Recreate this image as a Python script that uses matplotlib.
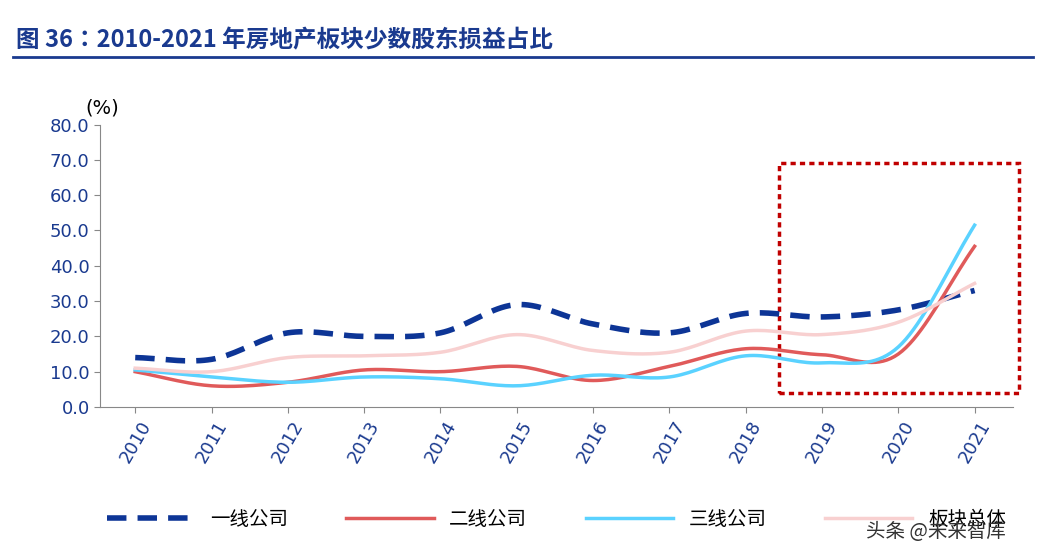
import numpy as np
import matplotlib
matplotlib.use("Agg")
import matplotlib.pyplot as plt
from matplotlib.patches import Rectangle
from matplotlib import font_manager as fm

cands = ['Noto Sans CJK SC', 'Noto Sans CJK JP', 'Noto Sans CJK TC', 'Noto Sans CJK KR']
avail = {f.name for f in fm.fontManager.ttflist}
cjk = [c for c in cands if c in avail] or cands
plt.rcParams['font.family'] = 'sans-serif'
plt.rcParams['font.sans-serif'] = cjk + ['DejaVu Sans']

years = ['2010','2011','2012','2013','2014','2015','2016','2017','2018','2019','2020','2021']
tier1 = [14, 13.5, 21, 20, 21, 29, 23.5, 21, 26.5, 25.5, 27.5, 33]
tier2 = [10, 6, 7, 10.5, 10, 11.5, 7.5, 11.5, 16.5, 14.8, 15, 45.5]
tier3 = [10.5, 8.5, 7, 8.5, 8, 6, 9, 8.5, 14.5, 12.5, 17, 51.5]
total = [11, 10, 14, 14.5, 15.5, 20.5, 16, 15.5, 21.5, 20.5, 24, 35]
names = ['一线公司', '二线公司', '三线公司', '板块总体']

def smooth(y, n=20):
    y = np.asarray(y, float); x = np.arange(len(y))
    m = np.gradient(y)
    xs, ys = [], []
    for i in range(len(y)-1):
        t = np.linspace(0, 1, n, endpoint=False)
        h00 = 2*t**3-3*t**2+1; h10 = t**3-2*t**2+t; h01 = -2*t**3+3*t**2; h11 = t**3-t**2
        xs.append(x[i]+t); ys.append(h00*y[i]+h10*m[i]+h01*y[i+1]+h11*m[i+1])
    xs.append([x[-1]]); ys.append([y[-1]])
    return np.concatenate(xs), np.concatenate(ys)

fig = plt.figure(figsize=(10.43, 5.56), dpi=100)
ax = fig.add_axes([0.096, 0.268, 0.875, 0.508])
blue = '#1a3a8f'
styles = [dict(color='#0d3596', lw=4, ls=(0, (3.5, 2))),
          dict(color='#e05a5a', lw=2.5),
          dict(color='#5ad2ff', lw=2.5),
          dict(color='#f8d0d0', lw=2.5)]
for data, name, st in zip([tier1, tier2, tier3, total], names, styles):
    xs, ys = smooth(data)
    ax.plot(xs, ys, label=name, **st)
ax.set_xlim(-0.46, 11.5)
ax.set_ylim(0, 80)
ax.set_yticks(np.arange(0, 81, 10))
ax.set_yticklabels([f'{v:.1f}' for v in np.arange(0, 81, 10)], fontsize=13, color=blue, family='DejaVu Sans')
ax.set_xticks(range(len(years)))
ax.set_xticklabels(years, rotation=60, fontsize=13, color=blue, family='DejaVu Sans')
for s in ['top', 'right']:
    ax.spines[s].set_visible(False)
ax.spines['left'].set_color('#888888'); ax.spines['bottom'].set_color('#888888')
ax.tick_params(colors='#888888', labelcolor=blue, length=4)
ax.text(-0.65, 83, '(%)', fontsize=14, color='black', family='DejaVu Sans')
ax.add_patch(Rectangle((8.44, 4), 3.14, 65.2, fill=False, ec='#c00000', lw=2.5, ls=(0, (1.5, 1.2)), clip_on=False))
ax.legend(loc='upper center', bbox_to_anchor=(0.5, -0.3), ncol=4, frameon=False, fontsize=14,
          handlelength=4.5, columnspacing=3)
fig.text(0.015, 0.915, '图 36：2010-2021 年房地产板块少数股东损益占比', fontsize=17, fontweight='bold', color='#1a3a8f')
fig.add_artist(plt.Line2D([0.012, 0.99], [0.897, 0.897], color='#1a3a8f', lw=2))
fig.text(0.83, 0.035, '头条 @未来智库', fontsize=14, color='#333333')
fig.savefig('out.png')
